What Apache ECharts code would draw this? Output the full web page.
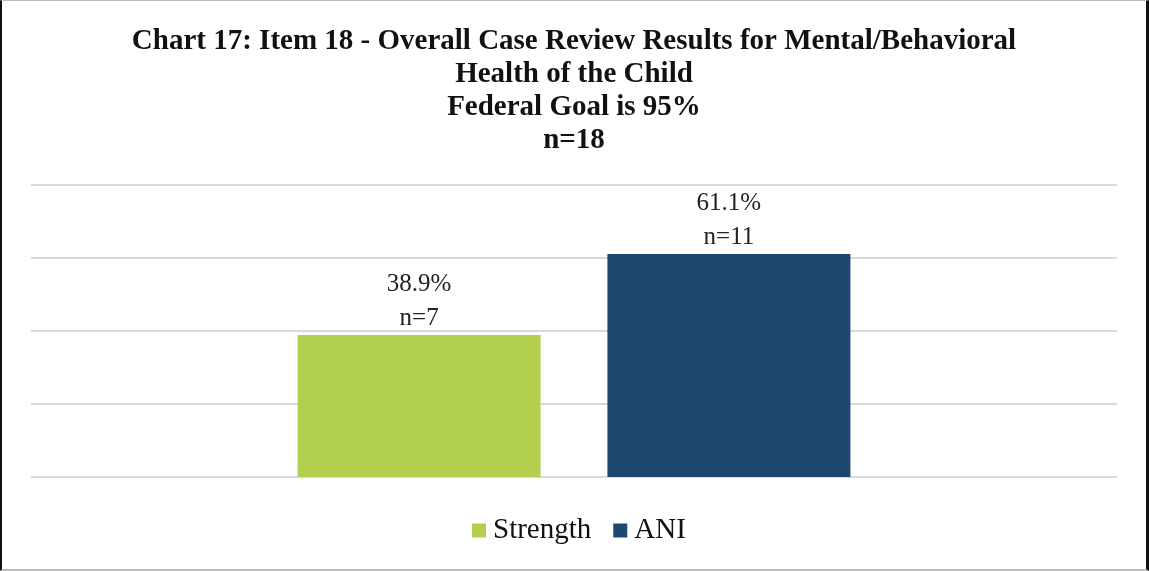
<!DOCTYPE html>
<html><head><meta charset="utf-8">
<script src="https://cdn.jsdelivr.net/npm/echarts@6/dist/echarts.min.js"></script>
<style>html,body{margin:0;padding:0;background:#fff}#c{width:1149px;height:571px;box-sizing:border-box;border-left:2px solid #111;border-right:3px solid #111;border-top:1px solid #bbb;border-bottom:2px solid #bbb}</style>
</head><body><div id="c"></div>
<script>
const titleLines = ["Chart 17: Item 18 - Overall Case Review Results for Mental/Behavioral", "Health of the Child", "Federal Goal is 95%", "n=18"];
const categories = ["Item 18"];
const seriesNames = ["Strength", "ANI"];
const percentValues = [38.9, 61.1];
const countValues = [7, 11];
const colors = ["#B2CF50", "#1F4870"];
const yTicks = [0, 20, 40, 60, 80];

const chart = echarts.init(document.getElementById('c'));
const font = "'Liberation Serif','Times New Roman',serif";
chart.setOption({
  animation: false,
  title: {
    text: titleLines.join("\n"),
    left: 'center', top: 19,
    textStyle: {fontFamily: font, fontWeight: 'bold', fontSize: 29, lineHeight: 33, color: '#111'}
  },
  legend: {
    bottom: 19, left: 465, itemWidth: 14, itemHeight: 14, itemGap: 22,
    icon: 'rect',
    textStyle: {fontFamily: font, fontSize: 29, color: '#111', padding: [0, 0, 0, 2]},
    data: seriesNames
  },
  grid: {left: 29, right: 29, top: 184, bottom: 92},
  xAxis: {type: 'category', data: categories, axisLine: {show: false}, axisTick: {show: false}, axisLabel: {show: false}},
  yAxis: {type: 'value', min: yTicks[0], max: yTicks[yTicks.length-1], interval: 20,
    axisLabel: {show: false}, axisLine: {show: false}, axisTick: {show: false},
    splitLine: {lineStyle: {color: '#d9d9d9', width: 2}}},
  series: seriesNames.map((n, i) => ({
    name: n, type: 'bar', barWidth: 243, barGap: '27.5%',
    itemStyle: {color: colors[i]},
    data: [percentValues[i]],
    label: {show: true, position: 'top', distance: 0,
      formatter: () => percentValues[i].toFixed(1) + "%\nn=" + countValues[i],
      fontFamily: font, fontSize: 25, lineHeight: 34, color: '#222'}
  }))
});
</script></body></html>
